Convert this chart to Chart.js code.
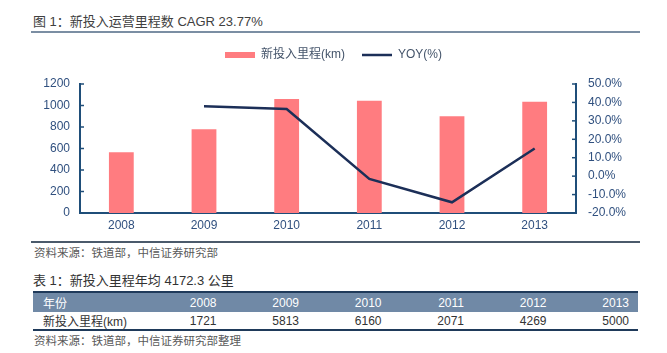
<!DOCTYPE html>
<html>
<head>
<meta charset="utf-8">
<script src="https://cdn.jsdelivr.net/npm/chart.js@4"></script>
<style>
  body { margin: 0; width: 667px; height: 353px; background: #fff; position: relative; overflow: hidden;
         font-family: "Liberation Sans", "Noto Sans CJK SC", sans-serif; }
  .abs { position: absolute; }
  #title1 { left: 33px; top: 13px; font-size: 13px; line-height: 18px; color: #404040; white-space: nowrap; }
  #rule1 { left: 31px; top: 31px; width: 609px; height: 2px; background: #7b8ea3; }
  #chartBox { left: 0; top: 32px; width: 667px; height: 208px; }
  #rule2 { left: 31px; top: 241px; width: 609px; height: 2px; background: #4b5a6b; }
  .src { left: 34px; font-size: 11.5px; line-height: 14px; color: #595959; white-space: nowrap; }
  #src1 { top: 246px; }
  #src2 { top: 334px; }
  #title2 { left: 33px; top: 272px; font-size: 13px; line-height: 18px; color: #333; white-space: nowrap; }
  #tbl { left: 33px; top: 291px; width: 605px; border-collapse: collapse; table-layout: fixed; font-size: 12px; }
  #tbl td { padding: 0 9px; white-space: nowrap; }
  #tbl td:not(:first-child) { text-align: right; }
  #tbl tr.head td { background: #7089a6; color: #fff; height: 19px; border-top: 2px solid #1f3a5a; }
  #tbl tr.head td:first-child { padding-left: 10px; }
  #tbl tr.body td { color: #333; height: 17px; border-bottom: 2px solid #1f3a5a; }
  #tbl tr.body td:first-child { padding-left: 10px; }
</style>
</head>
<body>
<div id="title1" class="abs">图 1：新投入运营里程数 CAGR 23.77%</div>
<div id="rule1" class="abs"></div>
<div id="chartBox" class="abs"><canvas id="chart" width="667" height="208"></canvas></div>
<div id="rule2" class="abs"></div>
<div id="src1" class="abs src">资料来源：铁道部，中信证券研究部</div>
<div id="title2" class="abs">表 1：新投入里程年均 4172.3 公里</div>
<table id="tbl" class="abs">
  <colgroup><col style="width:110px"><col><col><col><col><col><col></colgroup>
  <tbody></tbody>
</table>
<div id="src2" class="abs src">资料来源：铁道部，中信证券研究部整理</div>

<script>
// ─── Datos ───
const years = ['2008', '2009', '2010', '2011', '2012', '2013'];
const mileage = [565, 780, 1060, 1045, 900, 1035];
const yoy = [null, 37.9, 36.4, -1.5, -14.2, 15.0];
const leftTicks = [0, 1200, 200];      // min, max, step
const rightTicks = [-20, 50, 10];      // min, max, step

const tableHead = ['年份', '2008', '2009', '2010', '2011', '2012', '2013'];
const tableRow = ['新投入里程(km)', '1721', '5813', '6160', '2071', '4269', '5000'];

// ─── Tabla ───
(function() {
    const tbody = document.querySelector('#tbl tbody');
    [[tableHead, 'head'], [tableRow, 'body']].forEach(([cells, cls]) => {
        const tr = document.createElement('tr');
        tr.className = cls;
        cells.forEach(c => {
            const td = document.createElement('td');
            td.textContent = c;
            tr.appendChild(td);
        });
        tbody.appendChild(tr);
    });
})();

// ─── Chart ───
const AXIS = '#1f4e79';
const TICK_TEXT = '#30507f';
const FONT = '"Liberation Sans", "Noto Sans CJK SC", sans-serif';

// alto fijo de la leyenda para colocar el área del gráfico
const legendBox = {
    id: 'legendBox',
    beforeUpdate(chart) {
        const lg = chart.legend;
        if (lg && !lg._patched) {
            const fit = lg.fit;
            lg.fit = function() { fit.call(this); this.height = 52; };
            lg._patched = true;
        }
    }
};

// marcas de eje hacia dentro
const innerTicks = {
    id: 'innerTicks',
    afterDatasetsDraw(chart) {
        const ctx = chart.ctx;
        ctx.save();
        ctx.strokeStyle = AXIS;
        ctx.lineWidth = 1.5;
        ['y', 'y1'].forEach(id => {
            const s = chart.scales[id];
            const x0 = id === 'y' ? s.right : s.left;
            const dir = id === 'y' ? 1 : -1;
            s.ticks.forEach((t, i) => {
                const py = s.getPixelForTick(i);
                ctx.beginPath();
                ctx.moveTo(x0, py);
                ctx.lineTo(x0 + dir * 4, py);
                ctx.stroke();
            });
        });
        ctx.restore();
    }
};

new Chart(document.getElementById('chart'), {
    type: 'bar',
    data: {
        labels: years,
        datasets: [{
            label: '新投入里程(km)',
            data: mileage,
            backgroundColor: '#ff7c80',
            borderWidth: 0,
            barPercentage: 0.3,
            categoryPercentage: 1,
            pointStyle: 'rect',
            yAxisID: 'y',
            order: 1
        }, {
            type: 'line',
            label: 'YOY(%)',
            data: yoy,
            borderColor: '#1c2f58',
            backgroundColor: '#1c2f58',
            borderWidth: 2.5,
            pointRadius: 0,
            pointStyle: 'line',
            tension: 0,
            yAxisID: 'y1',
            order: 0
        }]
    },
    options: {
        responsive: false,
        animation: false,
        layout: { padding: 0 },
        plugins: {
            legend: {
                position: 'top',
                labels: {
                    usePointStyle: true,
                    pointStyleWidth: 30,
                    boxHeight: 6,
                    padding: 17,
                    color: '#44546a',
                    font: { family: FONT, size: 12 },
                    sort: (a, b) => a.datasetIndex - b.datasetIndex
                }
            },
            tooltip: { enabled: false }
        },
        scales: {
            x: {
                grid: { display: false, drawTicks: false },
                border: { color: AXIS, width: 2 },
                ticks: { color: TICK_TEXT, padding: 5, font: { family: FONT, size: 12 } },
                afterFit: s => { s.height = 27; }
            },
            y: {
                position: 'left',
                min: leftTicks[0],
                max: leftTicks[1],
                grid: { display: false, drawTicks: false },
                border: { color: AXIS, width: 2 },
                ticks: {
                    stepSize: leftTicks[2],
                    color: TICK_TEXT,
                    padding: 10,
                    font: { family: FONT, size: 12 },
                    callback: v => String(v)
                },
                afterFit: s => { s.width = 80; }
            },
            y1: {
                position: 'right',
                min: rightTicks[0],
                max: rightTicks[1],
                grid: { display: false, drawTicks: false },
                border: { color: AXIS, width: 2 },
                ticks: {
                    stepSize: rightTicks[2],
                    color: TICK_TEXT,
                    padding: 12,
                    font: { family: FONT, size: 12 },
                    callback: v => v.toFixed(1) + '%'
                },
                afterFit: s => { s.width = 91; }
            }
        }
    },
    plugins: [legendBox, innerTicks]
});
</script>
</body>
</html>
